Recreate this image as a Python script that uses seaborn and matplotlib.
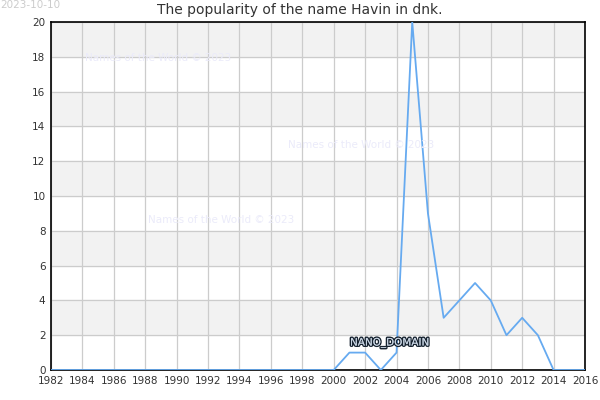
import matplotlib
matplotlib.use("Agg")
import matplotlib.pyplot as plt
import matplotlib.patheffects as pe
import seaborn as sns
import pandas as pd

years = list(range(1982, 2017))
counts = [0] * 18 + [0, 1, 1, 0, 1, 20, 9, 3, 4, 5, 4, 2, 3, 2, 0, 0, 0]
title = "The popularity of the name Havin in dnk."
stamp = "2023-10-10"
watermark = "Names of the World © 2023"

df = pd.DataFrame({"year": years, "count": counts})

sns.set_style("white")
plt.rcParams['font.family'] = ['DejaVu Sans']

fig = plt.figure(figsize=(6, 4), dpi=100)
ax = fig.add_axes([0.085, 0.075, 0.89, 0.87])

# alternating grey bands
for lo in range(2, 20, 4):
    ax.axhspan(lo, lo + 2, color='#f2f2f2', zorder=0)

sns.lineplot(data=df, x="year", y="count", ax=ax, color='#66aaf0', linewidth=1.3, zorder=3)

ax.set_xlim(1982, 2016)
ax.set_ylim(0, 20)
ax.set_xticks(range(1982, 2017, 2))
ax.set_yticks(range(0, 21, 2))
ax.grid(True, color='#cccccc', linewidth=0.9, zorder=1)
ax.set_axisbelow(True)
ax.tick_params(labelsize=7.5, colors='#333333', length=0, pad=4)
ax.set_xlabel("")
ax.set_ylabel("")
for s in ax.spines.values():
    s.set_color('black')
    s.set_linewidth(1.2)

fig.text(0.5, 0.975, title, ha='center', va='center', fontsize=10, color='#333333')
fig.text(0.0, 0.999, stamp, ha='left', va='top', fontsize=7.5, color='#cccccc')

for x, y in [(85, 58), (288, 145), (148, 220)]:
    fig.text(x / 600, 1 - y / 400, watermark, ha='left', va='center', fontsize=7.5, color='#ebebfa')

t = fig.text(350 / 600, 1 - 343 / 400, "NANO_DOMAIN", ha='left', va='center', fontsize=7.5,
             color='#c8d4e2')
t.set_path_effects([pe.withStroke(linewidth=2, foreground='#16222f'), pe.Normal()])

fig.savefig("out.png", dpi=100)
